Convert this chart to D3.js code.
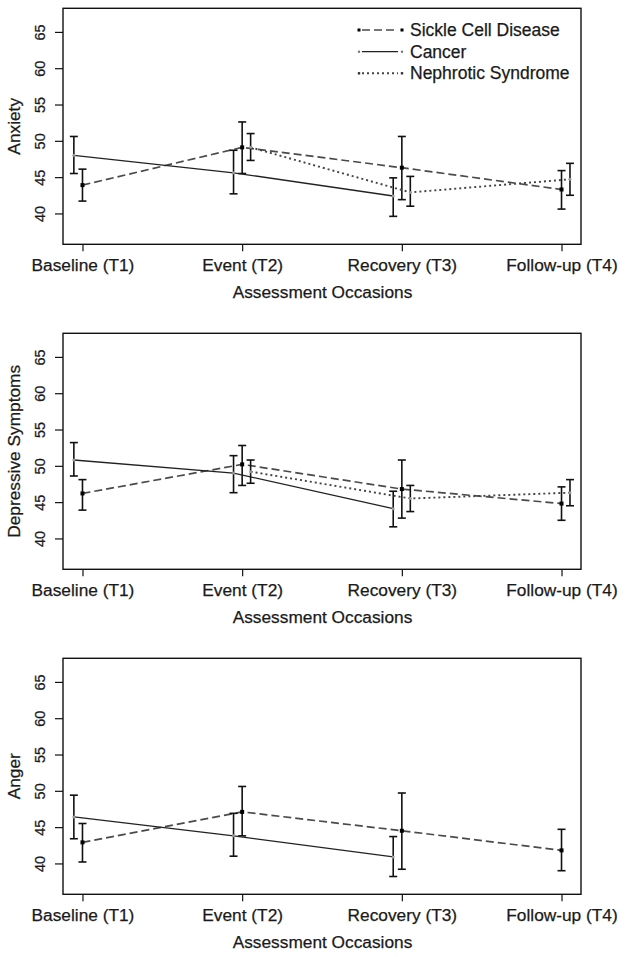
<!DOCTYPE html>
<html>
<head>
<meta charset="utf-8">
<script src="https://cdn.jsdelivr.net/npm/d3@7"></script>
<style>
  html, body { margin: 0; padding: 0; background: #fff; }
  svg { display: block; }
  text { font-family: "Liberation Sans", Arial, Helvetica, sans-serif; fill: #1a1a1a; stroke: #1a1a1a; stroke-width: 0.25px; }
</style>
</head>
<body>
<svg id="chart" width="629" height="957"></svg>
<script>
// ---------- data ----------
const occasions = ["Baseline (T1)", "Event (T2)", "Recovery (T3)", "Follow-up (T4)"];
const seriesNames = ["Sickle Cell Disease", "Cancer", "Nephrotic Syndrome"];
const measures = ["Anxiety", "Depressive Symptoms", "Anger"];
const yTicks = [40, 45, 50, 55, 60, 65];
const xTitle = "Assessment Occasions";

// Anxiety
const anxietySCD      = [43.9, 49.1, 46.3, 43.3];
const anxietySCDLo    = [41.7, 45.5, 41.9, 40.6];
const anxietySCDHi    = [46.1, 52.6, 50.6, 45.9];
const anxietyCancer   = [48.0, 45.6, 42.4, null];
const anxietyCancerLo = [45.5, 42.7, 39.6, null];
const anxietyCancerHi = [50.6, 48.7, 44.9, null];
const anxietyNS       = [null, 49.1, 42.9, 44.7];
const anxietyNSLo     = [null, 47.3, 41.0, 42.5];
const anxietyNSHi     = [null, 51.0, 45.1, 46.9];

// Depressive symptoms
const depSCD      = [46.2, 50.2, 46.8, 44.8];
const depSCDLo    = [43.9, 47.3, 42.8, 42.5];
const depSCDHi    = [48.1, 52.8, 50.8, 47.1];
const depCancer   = [50.8, 49.0, 44.1, null];
const depCancerLo = [48.6, 46.3, 41.6, null];
const depCancerHi = [53.2, 51.4, 46.5, null];
const depNS       = [null, 49.2, 45.5, 46.3];
const depNSLo     = [null, 47.6, 43.7, 44.5];
const depNSHi     = [null, 50.8, 47.3, 48.1];

// Anger
const angerSCD      = [42.9, 47.1, 44.5, 41.8];
const angerSCDLo    = [40.2, 43.8, 39.2, 39.0];
const angerSCDHi    = [45.5, 50.6, 49.7, 44.7];
const angerCancer   = [46.4, 43.8, 40.9, null];
const angerCancerLo = [43.4, 41.0, 38.2, null];
const angerCancerHi = [49.4, 46.9, 43.7, null];
const angerNS       = [null, null, null, null];
const angerNSLo     = [null, null, null, null];
const angerNSHi     = [null, null, null, null];

// ---------- build ----------
const panelData = [
  [[anxietySCD, anxietySCDLo, anxietySCDHi], [anxietyCancer, anxietyCancerLo, anxietyCancerHi], [anxietyNS, anxietyNSLo, anxietyNSHi]],
  [[depSCD, depSCDLo, depSCDHi], [depCancer, depCancerLo, depCancerHi], [depNS, depNSLo, depNSHi]],
  [[angerSCD, angerSCDLo, angerSCDHi], [angerCancer, angerCancerLo, angerCancerHi], [angerNS, angerNSLo, angerNSHi]]
];

const seriesStyle = [
  { offset: 0,      stroke: "#4a4a4a", dash: "8,4",  width: 1.7, marker: "square" },
  { offset: -0.054, stroke: "#222",    dash: null,   width: 1.3, marker: "dot" },
  { offset: 0.053,  stroke: "#444",    dash: "2,3",  width: 1.9, marker: "dot" }
];

const svg = d3.select("#chart");
const left = 63, right = 581, panelH = 236;
const panelTops = [8.3, 333.3, 658.3];

const x = d3.scaleLinear().domain([0.878, 4.122]).range([left, right]);

panelTops.forEach((top, pi) => {
  const bottom = top + panelH;
  const y = d3.scaleLinear().domain([35.75, 68.25]).range([bottom, top]);
  const g = svg.append("g");

  // y axis
  const yAxis = g.append("g").attr("transform", `translate(${left},0)`)
    .call(d3.axisLeft(y).tickValues(yTicks).tickSize(8).tickSizeOuter(0).tickFormat(d3.format("d")));
  yAxis.select(".domain").remove();
  yAxis.selectAll(".tick line").attr("stroke", "#111").attr("stroke-width", 1.2);
  yAxis.selectAll(".tick text")
    .attr("x", 0).attr("y", 0).attr("dy", "0.35em")
    .attr("transform", "translate(-23.5,0) rotate(-90)")
    .attr("text-anchor", "middle")
    .style("font-size", "14.5px").style("font-family", "'Liberation Sans', Arial, sans-serif")
    .attr("fill", "#1a1a1a");

  // x axis
  const xAxis = g.append("g").attr("transform", `translate(0,${bottom})`)
    .call(d3.axisBottom(x).tickValues([1, 2, 3, 4]).tickSize(7).tickSizeOuter(0)
      .tickFormat(d => occasions[d - 1]));
  xAxis.select(".domain").remove();
  xAxis.selectAll(".tick line").attr("stroke", "#111").attr("stroke-width", 1.2);
  xAxis.selectAll(".tick text")
    .attr("y", 26.7).attr("dy", 0)
    .style("font-size", "17.3px").style("font-family", "'Liberation Sans', Arial, sans-serif")
    .attr("fill", "#1a1a1a");

  // box
  g.append("rect").attr("x", left).attr("y", top)
    .attr("width", right - left).attr("height", panelH)
    .attr("fill", "none").attr("stroke", "#111").attr("stroke-width", 1.4);

  // axis titles
  g.append("text").attr("x", (left + right) / 2 + 0.5).attr("y", bottom + 53.3)
    .attr("text-anchor", "middle").style("font-size", "17.3px").text(xTitle);
  g.append("text")
    .attr("transform", `translate(14,${(top + bottom) / 2}) rotate(-90)`)
    .attr("dy", "0.35em").attr("text-anchor", "middle")
    .style("font-size", "17.3px").text(measures[pi]);

  // series
  panelData[pi].forEach((ser, si) => {
    const st = seriesStyle[si];
    const [mean, lo, hi] = ser;
    const pts = mean.map((m, i) => ({ i, m, lo: lo[i], hi: hi[i] })).filter(d => d.m != null);
    if (!pts.length) return;
    const px = d => x(d.i + 1 + st.offset);

    const line = d3.line().x(px).y(d => y(d.m));
    g.append("path").datum(pts).attr("d", line)
      .attr("fill", "none").attr("stroke", st.stroke)
      .attr("stroke-width", st.width)
      .attr("stroke-dasharray", st.dash);

    // error bars
    const eb = g.append("g").selectAll("g").data(pts).join("g");
    eb.append("line").attr("x1", px).attr("x2", px)
      .attr("y1", d => y(d.lo)).attr("y2", d => y(d.hi))
      .attr("stroke", "#111").attr("stroke-width", 1.6);
    [ "lo", "hi" ].forEach(k => {
      eb.append("line").attr("x1", d => px(d) - 4).attr("x2", d => px(d) + 4)
        .attr("y1", d => y(d[k])).attr("y2", d => y(d[k]))
        .attr("stroke", "#111").attr("stroke-width", 1.6);
    });

    // markers
    if (st.marker === "square") {
      eb.append("rect").attr("x", d => px(d) - 2).attr("y", d => y(d.m) - 2)
        .attr("width", 4).attr("height", 4).attr("fill", "#000");
    } else {
      eb.append("circle").attr("cx", px).attr("cy", d => y(d.m)).attr("r", 1.5)
        .attr("fill", "#9a9a9a");
    }
  });

  // legend (first panel only)
  if (pi === 0) {
    const lg = g.append("g");
    const rowY = [30, 51.7, 73.3];
    seriesNames.forEach((name, si) => {
      const st = seriesStyle[si];
      const yy = rowY[si];
      lg.append("line").attr("x1", 362).attr("x2", 398).attr("y1", yy).attr("y2", yy)
        .attr("stroke", st.stroke).attr("stroke-width", st.width)
        .attr("stroke-dasharray", st.dash);
      [359, 402].forEach(cx => {
        if (st.marker === "square") {
          lg.append("rect").attr("x", cx - 1.5).attr("y", yy - 1.5).attr("width", 3).attr("height", 3).attr("fill", "#000");
        } else if (si === 2) {
          lg.append("rect").attr("x", cx - 1.2).attr("y", yy - 1.2).attr("width", 2.4).attr("height", 2.4).attr("fill", "#333");
        } else {
          lg.append("circle").attr("cx", cx).attr("cy", yy).attr("r", 1.2).attr("fill", "#777");
        }
      });
      lg.append("text").attr("x", 410).attr("y", yy).attr("dy", "0.35em")
        .style("font-size", "17.5px").text(name);
    });
  }
});
</script>
</body>
</html>
